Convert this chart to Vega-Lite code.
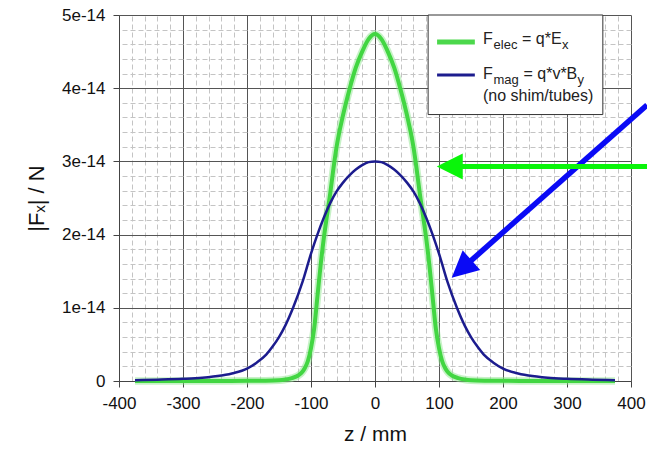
{
  "$schema": "https://vega.github.io/schema/vega-lite/v6.json",
  "width": 512,
  "height": 366,
  "autosize": "none",
  "padding": {"left": 119, "top": 15, "right": 16, "bottom": 78},
  "background": "white",
  "config": {"font": "Liberation Sans", "view": {"stroke": null}},
  "datasets": {
    "curves": [
      {"series": "elec", "z": -375, "F": 0},
      {"series": "elec", "z": -300, "F": 0},
      {"series": "elec", "z": -250, "F": 1e-17},
      {"series": "elec", "z": -200, "F": 2e-17},
      {"series": "elec", "z": -175, "F": 4e-17},
      {"series": "elec", "z": -150, "F": 1e-16},
      {"series": "elec", "z": -140, "F": 2e-16},
      {"series": "elec", "z": -130, "F": 4e-16},
      {"series": "elec", "z": -120, "F": 7.5e-16},
      {"series": "elec", "z": -115, "F": 1.1e-15},
      {"series": "elec", "z": -110, "F": 1.7e-15},
      {"series": "elec", "z": -105, "F": 2.7e-15},
      {"series": "elec", "z": -100, "F": 4.5e-15},
      {"series": "elec", "z": -95, "F": 7.2e-15},
      {"series": "elec", "z": -90, "F": 1.15e-14},
      {"series": "elec", "z": -85, "F": 1.58e-14},
      {"series": "elec", "z": -80, "F": 1.95e-14},
      {"series": "elec", "z": -75, "F": 2.26e-14},
      {"series": "elec", "z": -70, "F": 2.56e-14},
      {"series": "elec", "z": -65, "F": 2.9e-14},
      {"series": "elec", "z": -60, "F": 3.2e-14},
      {"series": "elec", "z": -50, "F": 3.63e-14},
      {"series": "elec", "z": -40, "F": 3.98e-14},
      {"series": "elec", "z": -30, "F": 4.28e-14},
      {"series": "elec", "z": -20, "F": 4.5e-14},
      {"series": "elec", "z": -10, "F": 4.67e-14},
      {"series": "elec", "z": 0, "F": 4.74e-14},
      {"series": "elec", "z": 10, "F": 4.67e-14},
      {"series": "elec", "z": 20, "F": 4.5e-14},
      {"series": "elec", "z": 30, "F": 4.28e-14},
      {"series": "elec", "z": 40, "F": 3.98e-14},
      {"series": "elec", "z": 50, "F": 3.63e-14},
      {"series": "elec", "z": 60, "F": 3.2e-14},
      {"series": "elec", "z": 65, "F": 2.9e-14},
      {"series": "elec", "z": 70, "F": 2.56e-14},
      {"series": "elec", "z": 75, "F": 2.26e-14},
      {"series": "elec", "z": 80, "F": 1.95e-14},
      {"series": "elec", "z": 85, "F": 1.58e-14},
      {"series": "elec", "z": 90, "F": 1.15e-14},
      {"series": "elec", "z": 95, "F": 7.2e-15},
      {"series": "elec", "z": 100, "F": 4.5e-15},
      {"series": "elec", "z": 105, "F": 2.7e-15},
      {"series": "elec", "z": 110, "F": 1.7e-15},
      {"series": "elec", "z": 115, "F": 1.1e-15},
      {"series": "elec", "z": 120, "F": 7.5e-16},
      {"series": "elec", "z": 130, "F": 4e-16},
      {"series": "elec", "z": 140, "F": 2e-16},
      {"series": "elec", "z": 150, "F": 1e-16},
      {"series": "elec", "z": 175, "F": 4e-17},
      {"series": "elec", "z": 200, "F": 2e-17},
      {"series": "elec", "z": 250, "F": 1e-17},
      {"series": "elec", "z": 300, "F": 0},
      {"series": "elec", "z": 375, "F": 0},
      {"series": "mag", "z": -375, "F": 1e-16},
      {"series": "mag", "z": -340, "F": 1.8e-16},
      {"series": "mag", "z": -300, "F": 3e-16},
      {"series": "mag", "z": -270, "F": 4.5e-16},
      {"series": "mag", "z": -240, "F": 7.5e-16},
      {"series": "mag", "z": -220, "F": 1.1e-15},
      {"series": "mag", "z": -200, "F": 1.7e-15},
      {"series": "mag", "z": -185, "F": 2.5e-15},
      {"series": "mag", "z": -170, "F": 3.6e-15},
      {"series": "mag", "z": -160, "F": 4.7e-15},
      {"series": "mag", "z": -150, "F": 6e-15},
      {"series": "mag", "z": -140, "F": 7.6e-15},
      {"series": "mag", "z": -128, "F": 1e-14},
      {"series": "mag", "z": -113, "F": 1.36e-14},
      {"series": "mag", "z": -100, "F": 1.74e-14},
      {"series": "mag", "z": -90, "F": 2e-14},
      {"series": "mag", "z": -80, "F": 2.23e-14},
      {"series": "mag", "z": -70, "F": 2.43e-14},
      {"series": "mag", "z": -60, "F": 2.59e-14},
      {"series": "mag", "z": -50, "F": 2.71e-14},
      {"series": "mag", "z": -40, "F": 2.81e-14},
      {"series": "mag", "z": -30, "F": 2.89e-14},
      {"series": "mag", "z": -20, "F": 2.95e-14},
      {"series": "mag", "z": -10, "F": 2.99e-14},
      {"series": "mag", "z": 0, "F": 3e-14},
      {"series": "mag", "z": 10, "F": 2.99e-14},
      {"series": "mag", "z": 20, "F": 2.95e-14},
      {"series": "mag", "z": 30, "F": 2.89e-14},
      {"series": "mag", "z": 40, "F": 2.81e-14},
      {"series": "mag", "z": 50, "F": 2.71e-14},
      {"series": "mag", "z": 60, "F": 2.59e-14},
      {"series": "mag", "z": 70, "F": 2.43e-14},
      {"series": "mag", "z": 80, "F": 2.23e-14},
      {"series": "mag", "z": 90, "F": 2e-14},
      {"series": "mag", "z": 100, "F": 1.74e-14},
      {"series": "mag", "z": 113, "F": 1.36e-14},
      {"series": "mag", "z": 128, "F": 1e-14},
      {"series": "mag", "z": 140, "F": 7.6e-15},
      {"series": "mag", "z": 150, "F": 6e-15},
      {"series": "mag", "z": 160, "F": 4.7e-15},
      {"series": "mag", "z": 170, "F": 3.6e-15},
      {"series": "mag", "z": 185, "F": 2.5e-15},
      {"series": "mag", "z": 200, "F": 1.7e-15},
      {"series": "mag", "z": 220, "F": 1.1e-15},
      {"series": "mag", "z": 240, "F": 7.5e-16},
      {"series": "mag", "z": 270, "F": 4.5e-16},
      {"series": "mag", "z": 300, "F": 3e-16},
      {"series": "mag", "z": 340, "F": 1.8e-16},
      {"series": "mag", "z": 375, "F": 1e-16}
    ],
    "shafts": [
      {"arrow": "mag", "z": 425, "F": 3.77e-14, "z2": 143, "F2": 1.59e-14},
      {"arrow": "elec", "z": 425, "F": 2.93e-14, "z2": 130, "F2": 2.93e-14}
    ],
    "heads": [
      {"arrow": "mag", "z": 119.8, "F": 1.41e-14},
      {"arrow": "elec", "z": 96.5, "F": 2.93e-14}
    ],
    "legendBox": [{"z": 83, "z2": 356, "F": 5e-14, "F2": 3.64e-14}],
    "legendLines": [
      {"series": "elec", "z": 97, "z2": 156, "F": 4.63e-14},
      {"series": "mag", "z": 97, "z2": 156, "F": 4.18e-14}
    ],
    "legendText": [
      {"z": 168.75, "F": 4.67e-14, "text": "F"},
      {"z": 229.7, "F": 4.67e-14, "text": "= q*E"},
      {"z": 168.75, "F": 4.2e-14, "text": "F"},
      {"z": 232, "F": 4.2e-14, "text": "= q*v*B"},
      {"z": 168.75, "F": 3.9e-14, "text": "(no shim/tubes)"}
    ],
    "legendSub": [
      {"z": 185.2, "F": 4.67e-14, "text": "elec"},
      {"z": 292.2, "F": 4.67e-14, "text": "x"},
      {"z": 185.2, "F": 4.2e-14, "text": "mag"},
      {"z": 316.4, "F": 4.2e-14, "text": "y"}
    ]
  },
  "resolve": {"axis": {"x": "independent", "y": "independent"}},
  "layer": [
    {
      "data": {"name": "curves"},
      "transform": [{"filter": "datum.series == 'mag'"}],
      "mark": {"type": "line", "opacity": 0},
      "encoding": {
        "x": {"field": "z", "type": "quantitative", "scale": {"domain": [-400, 400], "nice": false},
          "axis": {"orient": "top", "values": [-400,-380,-360,-340,-320,-300,-280,-260,-240,-220,-200,-180,-160,-140,-120,-100,-80,-60,-40,-20,0,20,40,60,80,100,120,140,160,180,200,220,240,260,280,300,320,340,360,380,400],
            "grid": true, "gridColor": "#c4c4c4", "gridDash": [5, 3], "gridWidth": 1, "labels": false, "ticks": false, "domain": false, "title": null}},
        "y": {"field": "F", "type": "quantitative", "scale": {"domain": [0, 5e-14], "nice": false, "zero": true},
          "axis": {"orient": "right", "values": [0,2e-15,4e-15,6e-15,8e-15,1e-14,1.2e-14,1.4e-14,1.6e-14,1.8e-14,2e-14,2.2e-14,2.4e-14,2.6e-14,2.8e-14,3e-14,3.2e-14,3.4e-14,3.6e-14,3.8e-14,4e-14,4.2e-14,4.4e-14,4.6e-14,4.8e-14,5e-14],
            "grid": true, "gridColor": "#c4c4c4", "gridDash": [5, 3], "gridWidth": 1, "labels": false, "ticks": false, "domain": false, "title": null}}
      }
    },
    {
      "data": {"name": "curves"},
      "transform": [{"filter": "datum.series == 'elec'"}],
      "mark": {"type": "line", "color": "#8fe68f", "strokeWidth": 7.5, "opacity": 0.5, "interpolate": "monotone", "clip": false},
      "encoding": {
        "x": {"field": "z", "type": "quantitative", "scale": {"domain": [-400, 400], "nice": false},
          "axis": {"orient": "bottom", "values": [-400,-300,-200,-100,0,100,200,300,400], "labelExpr": "'' + datum.value", "grid": true, "gridColor": "#555555", "gridWidth": 1,
            "domainColor": "#444444", "tickColor": "#444444", "tickSize": 6, "labelFontSize": 17, "labelColor": "#111111", "labelPadding": 8, "labelFlush": false,
            "title": "z / mm", "titleFontSize": 21, "titleFontWeight": "normal", "titleColor": "#111111", "titlePadding": 12}},
        "y": {"field": "F", "type": "quantitative", "scale": {"domain": [0, 5e-14], "nice": false, "zero": true},
          "axis": {"orient": "left", "values": [0, 1e-14, 2e-14, 3e-14, 4e-14, 5e-14], "labelExpr": "datum.value == 0 ? '0' : round(datum.value * 1e14) + 'e-14'",
            "grid": true, "gridColor": "#555555", "gridWidth": 1, "domainColor": "#444444", "tickColor": "#444444", "tickSize": 6,
            "labelFontSize": 17, "labelColor": "#111111", "labelPadding": 8, "labelFlush": false,
            "title": "|Fₓ| / N", "titleFontSize": 22, "titleFontWeight": "normal", "titleColor": "#111111", "titlePadding": 13}}
      }
    },
    {
      "data": {"name": "curves"},
      "transform": [{"filter": "datum.series == 'elec'"}],
      "mark": {"type": "line", "color": "#42d642", "strokeWidth": 4, "interpolate": "monotone"},
      "encoding": {
        "x": {"field": "z", "type": "quantitative", "axis": null},
        "y": {"field": "F", "type": "quantitative", "axis": null}
      }
    },
    {
      "data": {"name": "curves"},
      "transform": [{"filter": "datum.series == 'mag'"}],
      "mark": {"type": "line", "color": "#1c1c8e", "strokeWidth": 2.5, "interpolate": "monotone"},
      "encoding": {
        "x": {"field": "z", "type": "quantitative", "axis": null},
        "y": {"field": "F", "type": "quantitative", "axis": null}
      }
    },
    {
      "data": {"name": "shafts"},
      "transform": [{"filter": "datum.arrow == 'mag'"}],
      "mark": {"type": "rule", "color": "#0a0af5", "strokeWidth": 5.5, "clip": false},
      "encoding": {
        "x": {"field": "z", "type": "quantitative", "axis": null},
        "y": {"field": "F", "type": "quantitative", "axis": null},
        "x2": {"field": "z2"},
        "y2": {"field": "F2"}
      }
    },
    {
      "data": {"name": "heads"},
      "transform": [{"filter": "datum.arrow == 'mag'"}],
      "mark": {"type": "point", "shape": "M0,0L2,-1L2,1Z", "size": 700, "filled": true, "opacity": 1, "color": "#0a0af5", "angle": 318.4, "clip": false},
      "encoding": {
        "x": {"field": "z", "type": "quantitative", "axis": null},
        "y": {"field": "F", "type": "quantitative", "axis": null}
      }
    },
    {
      "data": {"name": "shafts"},
      "transform": [{"filter": "datum.arrow == 'elec'"}],
      "mark": {"type": "rule", "color": "#0af50a", "strokeWidth": 5, "clip": false},
      "encoding": {
        "x": {"field": "z", "type": "quantitative", "axis": null},
        "y": {"field": "F", "type": "quantitative", "axis": null},
        "x2": {"field": "z2"},
        "y2": {"field": "F2"}
      }
    },
    {
      "data": {"name": "heads"},
      "transform": [{"filter": "datum.arrow == 'elec'"}],
      "mark": {"type": "point", "shape": "M0,0L2,-1L2,1Z", "size": 676, "filled": true, "opacity": 1, "color": "#0af50a", "clip": false},
      "encoding": {
        "x": {"field": "z", "type": "quantitative", "axis": null},
        "y": {"field": "F", "type": "quantitative", "axis": null}
      }
    },
    {
      "data": {"name": "legendBox"},
      "mark": {"type": "rect", "fill": "white", "stroke": "#333333", "strokeWidth": 1},
      "encoding": {
        "x": {"field": "z", "type": "quantitative", "axis": null},
        "x2": {"field": "z2"},
        "y": {"field": "F", "type": "quantitative", "axis": null},
        "y2": {"field": "F2"}
      }
    },
    {
      "data": {"name": "legendLines"},
      "transform": [{"filter": "datum.series == 'elec'"}],
      "mark": {"type": "rule", "color": "#4cd84c", "strokeWidth": 5},
      "encoding": {
        "x": {"field": "z", "type": "quantitative", "axis": null},
        "x2": {"field": "z2"},
        "y": {"field": "F", "type": "quantitative", "axis": null}
      }
    },
    {
      "data": {"name": "legendLines"},
      "transform": [{"filter": "datum.series == 'mag'"}],
      "mark": {"type": "rule", "color": "#1c1c8e", "strokeWidth": 3},
      "encoding": {
        "x": {"field": "z", "type": "quantitative", "axis": null},
        "x2": {"field": "z2"},
        "y": {"field": "F", "type": "quantitative", "axis": null}
      }
    },
    {
      "data": {"name": "legendText"},
      "mark": {"type": "text", "align": "left", "baseline": "middle", "fontSize": 16, "color": "#222222"},
      "encoding": {
        "x": {"field": "z", "type": "quantitative", "axis": null},
        "y": {"field": "F", "type": "quantitative", "axis": null},
        "text": {"field": "text"}
      }
    },
    {
      "data": {"name": "legendSub"},
      "mark": {"type": "text", "align": "left", "baseline": "middle", "fontSize": 13, "dy": 6, "color": "#222222"},
      "encoding": {
        "x": {"field": "z", "type": "quantitative", "axis": null},
        "y": {"field": "F", "type": "quantitative", "axis": null},
        "text": {"field": "text"}
      }
    }
  ]
}
